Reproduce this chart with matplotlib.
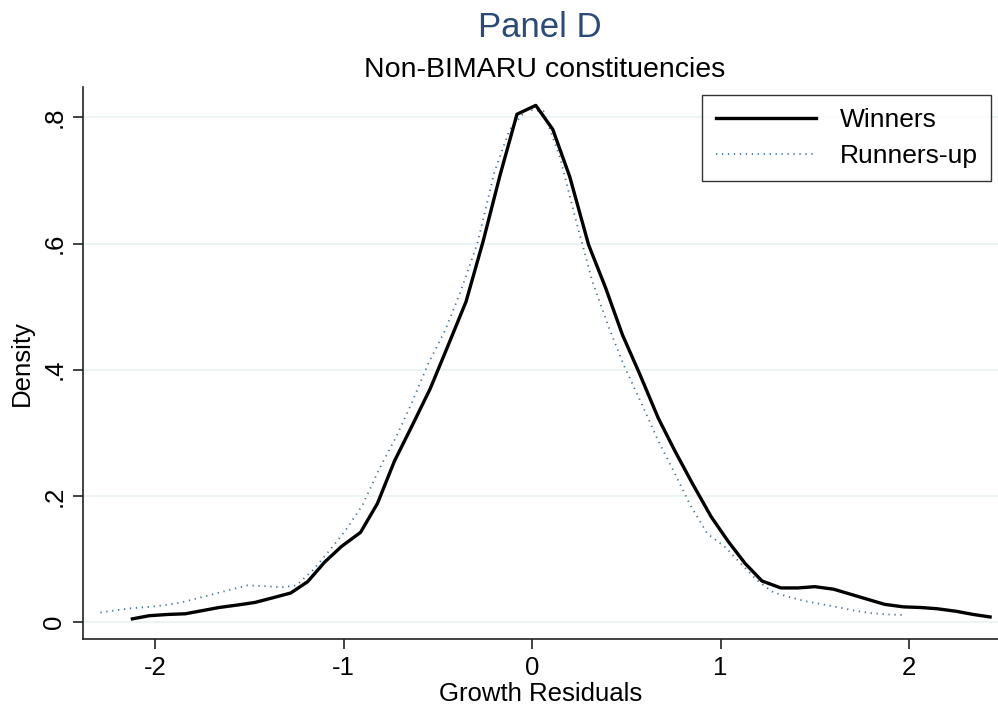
import matplotlib
matplotlib.use("Agg")
import matplotlib.pyplot as plt

plt.rcParams['font.family'] = ['Liberation Sans', 'DejaVu Sans']

# kernel density estimates
win_x = [-2.12, -2.03, -1.93, -1.84, -1.75, -1.66, -1.56, -1.47, -1.38, -1.28,
         -1.19, -1.10, -1.01, -0.91, -0.82, -0.73, -0.63, -0.54, -0.45, -0.35,
         -0.26, -0.17, -0.08, 0.02, 0.11, 0.20, 0.30, 0.39, 0.48, 0.57,
         0.67, 0.76, 0.85, 0.95, 1.04, 1.13, 1.22, 1.32, 1.41, 1.50,
         1.60, 1.69, 1.78, 1.87, 1.97, 2.06, 2.15, 2.25, 2.34, 2.43]
win_y = [0.005, 0.010, 0.012, 0.013, 0.018, 0.023, 0.027, 0.031, 0.038, 0.046,
         0.064, 0.095, 0.120, 0.142, 0.188, 0.255, 0.315, 0.370, 0.435, 0.508,
         0.603, 0.708, 0.805, 0.819, 0.781, 0.706, 0.598, 0.530, 0.455, 0.394,
         0.323, 0.270, 0.220, 0.167, 0.128, 0.093, 0.065, 0.054, 0.054, 0.056,
         0.052, 0.044, 0.036, 0.028, 0.024, 0.023, 0.021, 0.017, 0.012, 0.008]

run_x = [-2.29, -2.20, -2.12, -2.03, -1.94, -1.86, -1.77, -1.68, -1.59, -1.51,
         -1.42, -1.33, -1.25, -1.16, -1.07, -0.99, -0.90, -0.81, -0.72, -0.64,
         -0.55, -0.46, -0.38, -0.29, -0.20, -0.12, -0.03, 0.06, 0.15, 0.23,
         0.32, 0.41, 0.49, 0.58, 0.67, 0.75, 0.84, 0.93, 1.02, 1.10,
         1.19, 1.28, 1.36, 1.45, 1.54, 1.63, 1.71, 1.80, 1.89, 1.97]
run_y = [0.015, 0.019, 0.022, 0.024, 0.027, 0.031, 0.038, 0.045, 0.052, 0.058,
         0.057, 0.055, 0.058, 0.083, 0.115, 0.145, 0.185, 0.243, 0.294, 0.346,
         0.410, 0.463, 0.523, 0.600, 0.713, 0.780, 0.812, 0.810, 0.735, 0.640,
         0.540, 0.465, 0.405, 0.347, 0.287, 0.240, 0.185, 0.140, 0.120, 0.095,
         0.067, 0.047, 0.040, 0.033, 0.028, 0.023, 0.018, 0.014, 0.012, 0.011]

x_ticks = [-2, -1, 0, 1, 2]
y_ticks = [0, 0.2, 0.4, 0.6, 0.8]
y_labels = ['0', '.2', '.4', '.6', '.8']

fig = plt.figure(figsize=(9.98, 7.14), dpi=100)
ax = fig.add_axes([0.0832, 0.105, 0.9168, 0.773])

for yt in y_ticks:
    ax.axhline(yt, color='#eaf2f3', lw=1.2, zorder=0)

ax.plot(win_x, win_y, color='black', lw=2.4, label='Winners', zorder=3)
ax.plot(run_x, run_y, color='#3f6f99', lw=1.3, dashes=(0.7, 2.6),
        label='Runners-up', zorder=2)

ax.set_xlim(-2.382, 2.472)
ax.set_ylim(-0.027, 0.848)
ax.set_xticks(x_ticks)
ax.set_xticklabels([str(v) for v in x_ticks])
ax.set_yticks(y_ticks)
ax.set_yticklabels(y_labels, rotation=90, va='center')

for s in ['top', 'right']:
    ax.spines[s].set_visible(False)
for s in ['left', 'bottom']:
    ax.spines[s].set_color('#222222')
    ax.spines[s].set_linewidth(1.2)

ax.tick_params(axis='both', direction='out', length=7, width=1.2,
               color='#222222', labelsize=18.5, pad=5)

ax.set_xlabel('Growth Residuals', fontsize=18.5, labelpad=2)
ax.set_ylabel('Density', fontsize=18.5, labelpad=6)

fig.text(0.541, 0.962, 'Panel D', ha='center', va='center',
         fontsize=25, color='#2b4a78')
fig.text(0.546, 0.902, 'Non-BIMARU constituencies', ha='center',
         va='center', fontsize=20.5)

leg = ax.legend(loc='upper right', bbox_to_anchor=(0.998, 0.995),
                fontsize=19, frameon=True, fancybox=False,
                handlelength=3.8, handletextpad=0.9, borderpad=0.5,
                labelspacing=0.45, borderaxespad=0.2)
leg.get_frame().set_edgecolor('black')
leg.get_frame().set_linewidth(1.0)

fig.savefig('out.png', dpi=100)
